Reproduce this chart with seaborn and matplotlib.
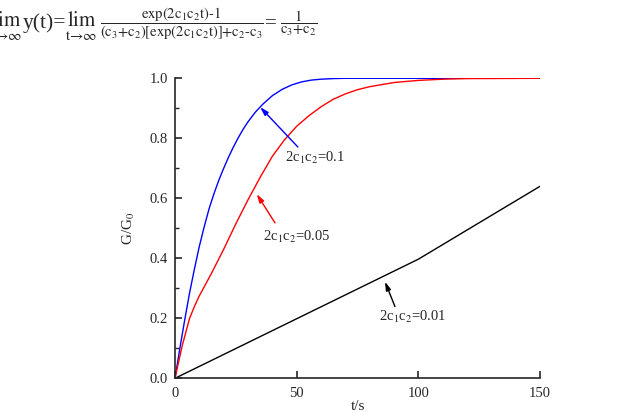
import seaborn as sns
import matplotlib
matplotlib.use("Agg")
from matplotlib import pyplot as plt
from matplotlib.ticker import MultipleLocator, FormatStrFormatter

# values
t_blue = [0, 2, 4, 6, 8, 10, 12, 14, 16, 18, 20, 22, 24, 26, 28, 30, 33, 36, 40, 44, 48, 52, 56, 60, 65, 70, 150]
g_blue = [0, 0.10, 0.195, 0.285, 0.365, 0.44, 0.505, 0.565, 0.615, 0.66, 0.70, 0.737, 0.771, 0.802, 0.83,
          0.855, 0.887, 0.913, 0.942, 0.963, 0.978, 0.988, 0.994, 0.997, 0.999, 1.0, 1.0]

t_red = [0, 3, 6, 8, 10, 15, 20, 25, 30, 35, 40, 45, 50, 55, 60, 65, 70, 75, 80, 90, 100, 110, 120, 150]
g_red = [0, 0.11, 0.20, 0.24, 0.275, 0.35, 0.43, 0.515, 0.595, 0.67, 0.74, 0.795, 0.84, 0.875, 0.905, 0.93,
         0.948, 0.962, 0.972, 0.986, 0.993, 0.997, 0.999, 1.0]

t_black = [0, 100, 150]
g_black = [0, 0.397, 0.64]

labels = ["2c$_1$c$_2$=0.1", "2c$_1$c$_2$=0.05", "2c$_1$c$_2$=0.01"]

sns.set_style("ticks")
plt.rcParams['font.family'] = ['Liberation Serif', 'DejaVu Serif']
plt.rcParams['mathtext.fontset'] = 'stix'

W, H = 624, 412
fig = plt.figure(figsize=(W / 100, H / 100), dpi=100)
ax = fig.add_axes([175 / W, 1 - 378.3 / H, 365 / W, 300 / H])

sns.lineplot(x=t_blue, y=g_blue, color='#0000ff', lw=1.0, ax=ax)
sns.lineplot(x=t_red, y=g_red, color='#ff0000', lw=1.0, ax=ax)
sns.lineplot(x=t_black, y=g_black, color='black', lw=1.0, ax=ax)

ax.set_xlim(0, 150)
ax.set_ylim(0, 1.0)
ax.xaxis.set_major_locator(MultipleLocator(50))
ax.yaxis.set_major_locator(MultipleLocator(0.2))
ax.yaxis.set_minor_locator(MultipleLocator(0.1))
ax.yaxis.set_major_formatter(FormatStrFormatter('%.1f'))
ax.tick_params(axis='both', which='major', direction='in', length=5, width=1.2, labelsize=10.5)
ax.tick_params(axis='x', which='major', pad=6)
ax.tick_params(axis='y', which='major', pad=5)
ax.tick_params(axis='y', which='minor', direction='in', length=3, width=1.0)
sns.despine(ax=ax)
for s in ['left', 'bottom']:
    ax.spines[s].set_linewidth(1.2)

ax.set_xlabel('t/s', fontsize=11, labelpad=0)
ax.set_ylabel('G/G$_0$', fontsize=11, labelpad=9)

arrow_specs = [
    (labels[0], (35, 0.904), (57.5, 0.734), (50.5, 0.771), '#0000ff'),
    (labels[1], (33.6, 0.614), (50.2, 0.471), (41.1, 0.518), '#ff0000'),
    (labels[2], (86.3, 0.322), (97.6, 0.203), (90.4, 0.239), 'black'),
]
for txt, tip, txt_pos, tail, col in arrow_specs:
    ax.annotate('', xy=tip, xytext=tail,
                arrowprops=dict(arrowstyle='-|>,head_length=0.5,head_width=0.15', color=col, lw=1.0,
                                shrinkA=0, shrinkB=0))
    ax.text(txt_pos[0], txt_pos[1], txt, fontsize=10.5, ha='center', va='center')


# formula at the top, partly cut at the left edge like the reference
def ftext(px, py, s, size, **kw):
    fig.text(px / W, 1 - py / H, s, fontsize=size, va='baseline', **kw)


base = 28
ftext(6, base, r'$\mathrm{\lim_{t\to\infty}}$', 15, ha='center')
ftext(23, base, 'y(t)=', 15.5, ha='left')
ftext(81, base, r'$\mathrm{\lim_{t\to\infty}}$', 15, ha='center')
ftext(100, base - 1,
      r'$\mathrm{\dfrac{exp(2c_1c_2t)\text{-}1}{(c_3\text{+}c_2)[exp(2c_1c_2t)]\text{+}c_2\text{-}c_3}}$',
      10.5, ha='left')
ftext(265, base, '=', 15, ha='left')
ftext(280, base - 1, r'$\mathrm{\dfrac{1}{c_3\text{+}c_2}}$', 10.5, ha='left')

fig.savefig('out.png', dpi=100)
